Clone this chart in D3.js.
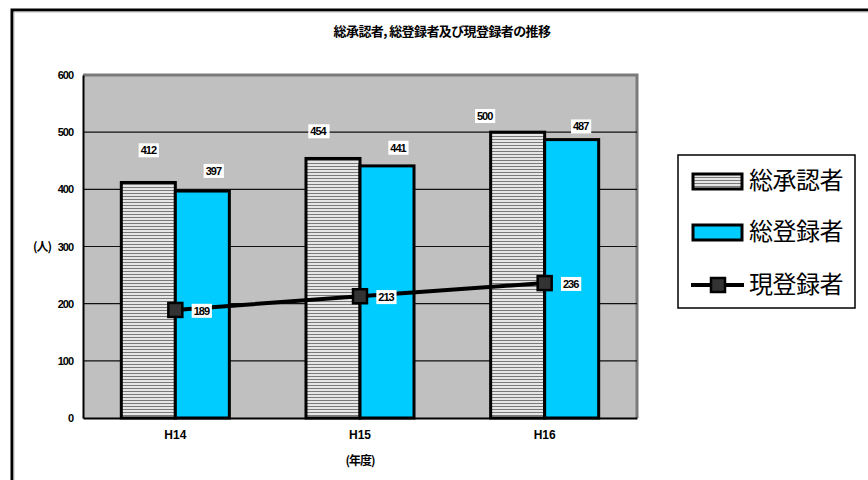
<!DOCTYPE html>
<html>
<head>
<meta charset="utf-8">
<script src="https://cdn.jsdelivr.net/npm/d3@7"></script>
<style>
  body { margin: 0; background: #fff; }
  svg { display: block; }
  .num { font-family: "Liberation Sans", Arial, sans-serif; font-weight: bold; font-size: 11px; letter-spacing: -1px; }
  .jp { font-family: "Noto Sans CJK JP", sans-serif; }
</style>
</head>
<body>
<div id="graph"></div>
<script>
// data
let years = ["H14", "H15", "H16"];
let approved = [412, 454, 500];     // 総承認者
let registered = [397, 441, 487];   // 総登録者
let current = [189, 213, 236];      // 現登録者
let yTicks = [0, 100, 200, 300, 400, 500, 600];
let seriesNames = ["総承認者", "総登録者", "現登録者"];

// manual nudges of the bar labels (the original labels were dragged by hand)
let approvedLabelShift = [[0, -32], [-15, -27], [-33, -16]];
let registeredLabelShift = [[11, -20], [11, -18], [9, -13]];

let width = 868, height = 480;
let padding = {left: 83, right: 231, top: 75, bottom: 62};

let graph = d3.select("div#graph")
	.append("svg")
	.attr("width", width)
	.attr("height", height);

// hatch for the first series
let defs = graph.append("defs");
let pat = defs.append("pattern")
	.attr("id", "hatch")
	.attr("patternUnits", "userSpaceOnUse")
	.attr("width", 4)
	.attr("height", 3);
pat.append("rect").attr("width", 4).attr("height", 3).attr("fill", "#e6e6e6");
pat.append("rect").attr("y", 1).attr("width", 4).attr("height", 1).attr("fill", "#7a7a7a");

// page frame
graph.append("path")
	.attr("d", `M12,${height} V10 H${width}`)
	.attr("fill", "none")
	.attr("stroke", "#000")
	.attr("stroke-width", 3);
graph.append("path")
	.attr("d", `M14,${height} V12 H${width}`)
	.attr("fill", "none")
	.attr("stroke", "#bbb")
	.attr("stroke-width", 1);

let xScale = d3.scaleBand()
	.domain(years)
	.range([padding.left, width - padding.right])
	.paddingInner(0.415)
	.paddingOuter(0.2075);

let yScale = d3.scaleLinear()
	.domain([0, 600])
	.range([height - padding.bottom, padding.top]);

let x0 = padding.left, x1 = width - padding.right;
let y0 = yScale(0), y1 = yScale(600);
let bw = xScale.bandwidth() / 2;

// plot background
graph.append("rect")
	.attr("x", x0).attr("y", y1)
	.attr("width", x1 - x0).attr("height", y0 - y1)
	.attr("fill", "#c0c0c0");
graph.append("path")
	.attr("d", `M${x0},${y1} H${x1} V${y0}`)
	.attr("fill", "none")
	.attr("stroke", "#7a7a7a")
	.attr("stroke-width", 3);

// gridlines
graph.selectAll("line.grid").data(yTicks.filter(d => d > 0 && d < 600))
	.enter().append("line")
	.attr("class", "grid")
	.attr("x1", x0).attr("x2", x1)
	.attr("y1", d => yScale(d)).attr("y2", d => yScale(d))
	.attr("stroke", "#111").attr("stroke-width", 1.2);

// y axis
let yAxis = d3.axisLeft(yScale).tickValues(yTicks).tickSize(0).tickPadding(10);
let yg = graph.append("g")
	.attr("transform", `translate(${x0},0)`)
	.call(yAxis);
yg.select(".domain").attr("stroke", "#000").attr("stroke-width", 2);
yg.selectAll("text").attr("class", "num").attr("fill", "#000");

// x axis
let xAxis = d3.axisBottom(xScale).tickSize(0).tickPadding(12);
let xg = graph.append("g")
	.attr("transform", `translate(0,${y0})`)
	.call(xAxis);
xg.select(".domain").attr("stroke", "#000").attr("stroke-width", 2);
xg.selectAll("text").attr("class", "num").style("letter-spacing", "0px").style("font-size", "12px").attr("fill", "#000");

// bars
graph.selectAll("rect.approved").data(approved)
	.enter().append("rect")
	.attr("class", "approved")
	.attr("x", (d, i) => xScale(years[i]))
	.attr("y", d => yScale(d))
	.attr("width", bw)
	.attr("height", d => y0 - yScale(d))
	.attr("fill", "url(#hatch)")
	.attr("stroke", "#000")
	.attr("stroke-width", 3);

graph.selectAll("rect.registered").data(registered)
	.enter().append("rect")
	.attr("class", "registered")
	.attr("x", (d, i) => xScale(years[i]) + bw)
	.attr("y", d => yScale(d))
	.attr("width", bw)
	.attr("height", d => y0 - yScale(d))
	.attr("fill", "#00ccff")
	.attr("stroke", "#000")
	.attr("stroke-width", 3);

// line
let cx = (d, i) => xScale(years[i]) + bw;
let line = d3.line()
	.x(cx)
	.y(d => yScale(d));
graph.append("path")
	.datum(current)
	.attr("d", line)
	.attr("fill", "none")
	.attr("stroke", "#000")
	.attr("stroke-width", 4);
graph.selectAll("rect.marker").data(current)
	.enter().append("rect")
	.attr("class", "marker")
	.attr("x", (d, i) => cx(d, i) - 7)
	.attr("y", d => yScale(d) - 7)
	.attr("width", 14).attr("height", 14)
	.attr("fill", "#333")
	.attr("stroke", "#000")
	.attr("stroke-width", 2.5);

// value labels in white boxes
function addLabel(x, y, txt) {
	let g = graph.append("g").attr("transform", `translate(${x},${y})`);
	let t = g.append("text")
		.attr("class", "num")
		.attr("text-anchor", "middle")
		.attr("dy", "0.35em")
		.text(txt);
	let bb = t.node().getBBox();
	g.insert("rect", "text")
		.attr("x", bb.x - 2).attr("y", bb.y - 1)
		.attr("width", bb.width + 4).attr("height", bb.height + 2)
		.attr("fill", "#fff");
}
approved.forEach((d, i) => addLabel(xScale(years[i]) + bw / 2 + approvedLabelShift[i][0], yScale(d) + approvedLabelShift[i][1], d));
registered.forEach((d, i) => addLabel(xScale(years[i]) + bw * 1.5 + registeredLabelShift[i][0], yScale(d) + registeredLabelShift[i][1], d));
current.forEach((d, i) => addLabel(cx(d, i) + 26, yScale(d) + 1, d));

// title and axis titles
graph.append("text")
	.attr("class", "jp")
	.attr("x", 442).attr("y", 36)
	.attr("text-anchor", "middle")
	.style("font-size", "13px").style("font-weight", "bold").style("letter-spacing", "-0.6px")
	.text("総承認者, 総登録者及び現登録者の推移");
graph.append("text")
	.attr("class", "jp")
	.attr("x", 42).attr("y", yScale(300) + 4)
	.attr("text-anchor", "middle")
	.style("font-size", "12px").style("font-weight", "bold").style("letter-spacing", "-1px")
	.text("(人)");
graph.append("text")
	.attr("class", "jp")
	.attr("x", xScale("H15") + bw).attr("y", 465)
	.attr("text-anchor", "middle")
	.style("font-size", "12px").style("font-weight", "bold").style("letter-spacing", "-1px")
	.text("(年度)");

// legend
let legend = graph.append("g").attr("transform", "translate(678,155)");
legend.append("rect")
	.attr("width", 177).attr("height", 153)
	.attr("fill", "#fff")
	.attr("stroke", "#000")
	.attr("stroke-width", 1.5);
let rowY = [26, 77, 130];
legend.append("rect")
	.attr("x", 15).attr("y", rowY[0] - 7).attr("width", 49).attr("height", 15)
	.attr("fill", "url(#hatch)").attr("stroke", "#000").attr("stroke-width", 3);
legend.append("rect")
	.attr("x", 15).attr("y", rowY[1] - 7).attr("width", 49).attr("height", 15)
	.attr("fill", "#00ccff").attr("stroke", "#000").attr("stroke-width", 3);
legend.append("line")
	.attr("x1", 13).attr("x2", 66).attr("y1", rowY[2]).attr("y2", rowY[2])
	.attr("stroke", "#000").attr("stroke-width", 4);
legend.append("rect")
	.attr("x", 33).attr("y", rowY[2] - 7).attr("width", 14).attr("height", 14)
	.attr("fill", "#333").attr("stroke", "#000").attr("stroke-width", 2.5);
legend.selectAll("text.leg").data(seriesNames)
	.enter().append("text")
	.attr("class", "jp")
	.attr("x", 71)
	.attr("y", (d, i) => rowY[i])
	.attr("dy", "0.35em")
	.style("font-size", "24px")
	.style("letter-spacing", "-0.5px")
	.text(d => d);
</script>
</body>
</html>
